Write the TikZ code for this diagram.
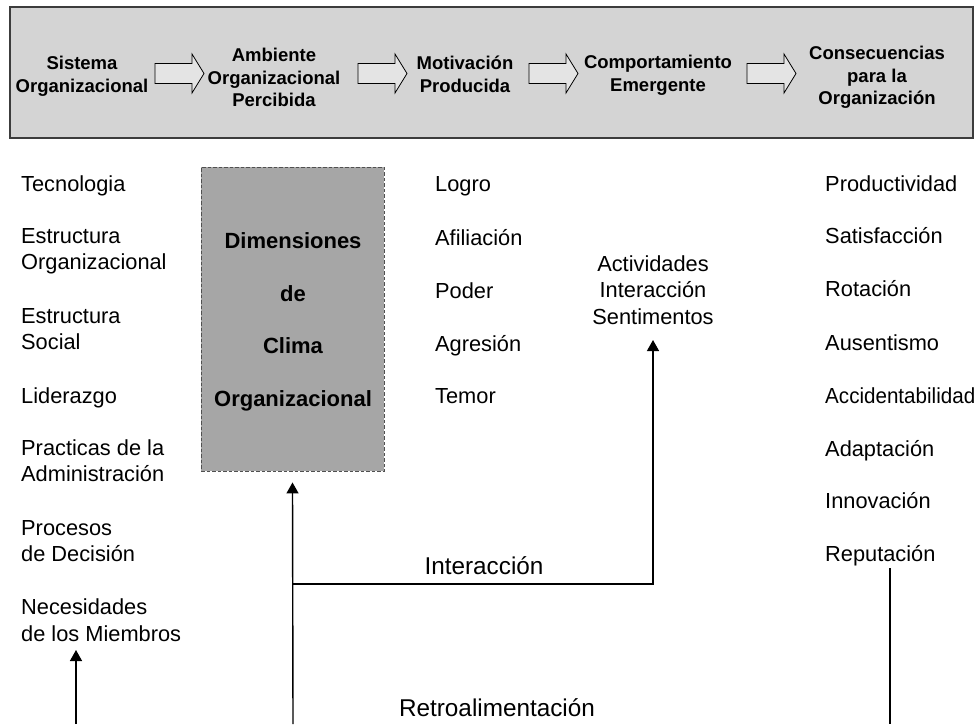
\documentclass[tikz,border=0pt]{standalone}
\usepackage{fontspec}
\setmainfont{Liberation Sans}
\usetikzlibrary{arrows.meta}
\definecolor{barfill}{HTML}{D4D4D4}
\definecolor{bardraw}{HTML}{3C3C3C}
\definecolor{boxfill}{HTML}{A6A6A6}
\definecolor{boxdraw}{HTML}{505050}
\definecolor{arrfill}{HTML}{E4E4E4}
\begin{document}
\begin{tikzpicture}[x=1pt,y=-1pt,
  txt/.style={anchor=base west,inner sep=0pt,align=left,font=\fontsize{21.8}{26.5}\selectfont},
  ctxt/.style={anchor=base,inner sep=0pt,align=center,font=\fontsize{21.8}{26.8}\selectfont},
  lbl/.style={anchor=base,inner sep=0pt,font=\fontsize{24.3}{28}\selectfont},
  head/.style={anchor=base,inner sep=0pt,align=center,font=\bfseries\fontsize{18.5}{22.4}\selectfont},
  dimtxt/.style={anchor=base,inner sep=0pt,font=\bfseries\fontsize{22}{26}\selectfont},
  bar/.style={draw=bardraw,fill=barfill,line width=1.2pt},
  dimbox/.style={draw=boxdraw,fill=boxfill,dashed,dash pattern=on 3.5pt off 2pt,line width=0.9pt,minimum width=183pt,minimum height=304pt,inner sep=0pt},
  blockarrow/.style={draw=black,fill=arrfill,line width=0.8pt,line join=miter},
  conn/.style={draw=black,line width=1.4pt},
  arr/.style={conn,-{Triangle[width=12pt,length=11pt]}}
]
\useasboundingbox (0,0) rectangle (977,724);
\fill[white] (0,0) rectangle (977,724);

% top bar
\draw[bar] (10,7) rectangle (973,138);

% top headings (base = baseline of last line)
\node[head] (h1) at (82,92) {Sistema\\Organizacional};
\node[head] (h2) at (274,106.4) {Ambiente\\Organizacional\\Percibida};
\node[head] (h3) at (465,92) {Motivación\\Producida};
\node[head] (h4) at (658,91) {Comportamiento\\Emergente};
\node[head] (h5) at (877,104.4) {Consecuencias\\para la\\Organización};

% block arrows between headings
\foreach \ax in {155,358,529,747}{
  \draw[blockarrow] (\ax,63.5) -- (\ax+37,63.5) -- (\ax+37,54) -- (\ax+49,73.5)
    -- (\ax+37,93) -- (\ax+37,83.5) -- (\ax,83.5) -- cycle;
}

% dashed box
\node[dimbox] (dim) at (292.5,319) {};
\node[dimtxt] (d1) at (293,248) {Dimensiones};
\node[dimtxt] (d2) at (293,301) {de};
\node[dimtxt] (d3) at (293,353) {Clima};
\node[dimtxt] (d4) at (293,406) {Organizacional};

% left column
\node[txt] (tec) at (21,191) {Tecnologia};
\node[txt] (eo) at (21,269.5) {Estructura\\Organizacional};
\node[txt] (es) at (21,349.5) {Estructura\\Social};
\node[txt] (lid) at (21,403) {Liderazgo};
\node[txt] (pra) at (21,481.5) {Practicas de la\\Administración};
\node[txt] (pro) at (21,561.5) {Procesos\\de Decisión};
\node[txt] (nec) at (21,641) {Necesidades\\de los Miembros};

% motivation column
\node[txt] (log) at (435,191) {Logro};
\node[txt] (afi) at (435,245) {Afiliación};
\node[txt] (pod) at (435,298) {Poder};
\node[txt] (agr) at (435,351) {Agresión};
\node[txt] (tem) at (435,403) {Temor};

% behaviour
\node[ctxt] (act) at (653,324.6) {Actividades\\Interacción\\Sentimentos};

% consequences column
\node[txt] (c1) at (825,191) {Productividad};
\node[txt] (c2) at (825,243) {Satisfacción};
\node[txt] (c3) at (825,296) {Rotación};
\node[txt] (c4) at (825,350) {Ausentismo};
\node[txt] (c5) at (825,403) {\scalebox{0.945}[1]{Accidentabilidad}};
\node[txt] (c6) at (825,456) {Adaptación};
\node[txt] (c7) at (825,508) {Innovación};
\node[txt] (c8) at (825,561) {Reputación};

% labels
\node[lbl] (inter) at (484,574) {Interacción};
\node[lbl] (retro) at (497,716) {Retroalimentación};

% connectors
\coordinate (bl) at (76,724);
\coordinate (bltip) at (76,650);
\coordinate (bm) at (293,724);
\coordinate (jn) at (293,584);
\coordinate (rt) at (890,568);
\coordinate (rb) at (890,724);

\draw[arr] (bl) -- (bltip);
\draw[arr] (bm) -- ([yshift=-11pt]dim.south);
\draw[arr] (jn) -| ([yshift=-15pt]act.south);
\draw[conn] (rt) -- (rb);
\end{tikzpicture}
\end{document}
